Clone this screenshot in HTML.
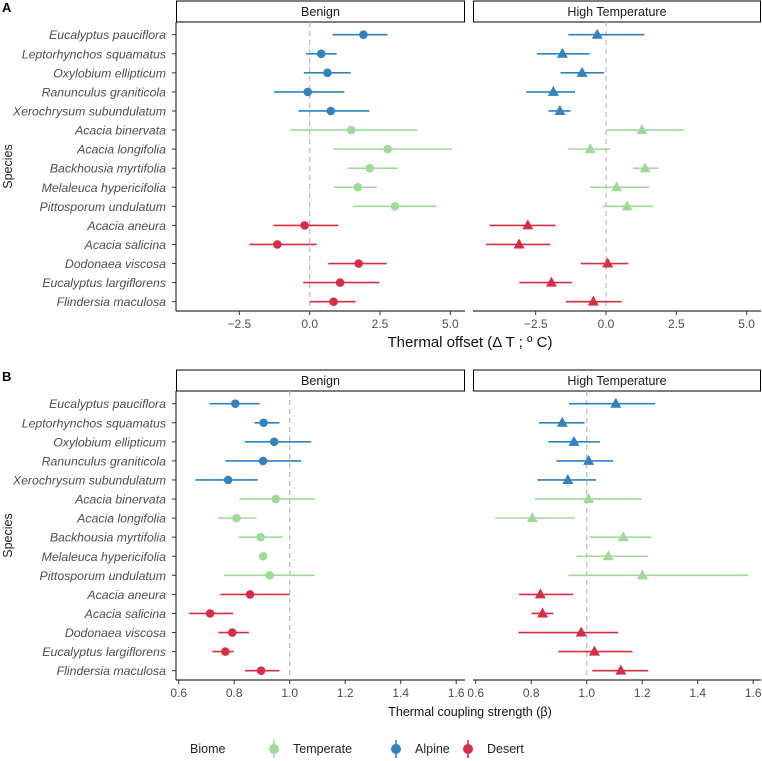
<!DOCTYPE html>
<html><head><meta charset="utf-8"><style>
body{margin:0;background:#fff}
svg{display:block;font-family:"Liberation Sans",sans-serif}
</style></head><body>
<svg id="chart" width="762" height="761" viewBox="0 0 762 761"></svg>
<script>
const species=["Eucalyptus pauciflora","Leptorhynchos squamatus","Oxylobium ellipticum","Ranunculus graniticola","Xerochrysum subundulatum","Acacia binervata","Acacia longifolia","Backhousia myrtifolia","Melaleuca hypericifolia","Pittosporum undulatum","Acacia aneura","Acacia salicina","Dodonaea viscosa","Eucalyptus largiflorens","Flindersia maculosa"];
const biome=["Alpine","Alpine","Alpine","Alpine","Alpine","Temperate","Temperate","Temperate","Temperate","Temperate","Desert","Desert","Desert","Desert","Desert"];
const aBenignMid=[1.91,0.41,0.63,-0.07,0.75,1.48,2.77,2.14,1.71,3.03,-0.18,-1.15,1.74,1.08,0.85];
const aBenignLo=[0.81,-0.13,-0.21,-1.27,-0.40,-0.68,0.82,1.34,0.86,1.54,-1.29,-2.14,0.66,-0.23,0.01];
const aBenignHi=[2.77,0.96,1.46,1.23,2.12,3.83,5.06,3.13,2.39,4.51,1.02,0.25,2.74,2.48,1.63];
const aHighMid=[-0.31,-1.55,-0.85,-1.87,-1.64,1.28,-0.56,1.39,0.38,0.75,-2.78,-3.09,0.06,-1.94,-0.45];
const aHighLo=[-1.34,-2.46,-1.62,-2.84,-2.05,0.02,-1.34,0.96,-0.56,-0.11,-4.14,-4.27,-0.90,-3.08,-1.43];
const aHighHi=[1.36,-0.58,-0.07,-1.10,-1.26,2.78,0.15,1.86,1.53,1.68,-1.79,-1.98,0.79,-1.20,0.56];
const bBenignMid=[0.804,0.906,0.944,0.904,0.778,0.950,0.808,0.895,0.904,0.928,0.857,0.713,0.793,0.768,0.897];
const bBenignLo=[0.711,0.873,0.838,0.768,0.660,0.819,0.743,0.816,0.900,0.763,0.750,0.638,0.743,0.721,0.839];
const bBenignHi=[0.892,0.963,1.078,1.041,0.885,1.092,0.880,0.975,0.908,1.090,1.000,0.796,0.853,0.798,0.963];
const bHighMid=[1.105,0.912,0.954,1.007,0.932,1.007,0.804,1.132,1.078,1.201,0.833,0.841,0.980,1.028,1.123];
const bHighLo=[0.936,0.828,0.862,0.891,0.822,0.813,0.670,1.011,0.963,0.934,0.756,0.801,0.754,0.898,1.020];
const bHighHi=[1.247,0.992,1.047,1.095,1.034,1.198,0.958,1.234,1.220,1.583,0.951,0.880,1.114,1.165,1.222];
const aTicks=[-2.5,0,2.5,5];
const aTickLabels=["\u22122.5","0.0","2.5","5.0"];
const bTicks=[0.6,0.8,1.0,1.2,1.4,1.6];
const bTickLabels=["0.6","0.8","1.0","1.2","1.4","1.6"];
const colors={Alpine:"#3182bd",Temperate:"#a1d99b",Desert:"#d62f45"};
const NS="http://www.w3.org/2000/svg";
const svg=document.getElementById('chart');
function el(tag,attrs,parent,text){const e=document.createElementNS(NS,tag);for(const k in attrs)e.setAttribute(k,attrs[k]);if(text!==undefined)e.textContent=text;(parent||svg).appendChild(e);return e;}

function panelSet(top,zero,scale,ticks,tickLabels,refVal,data,letter,title){
  const plotTop=top+22, plotBot=top+311;
  const L=[176,473], R=[465,761];
  const rowY=i=>top+34.7+i*19.07;
  const g=el('g',{},svg);
  
  
  const lt=el('text',{x:2,y:top+12,'font-weight':'bold','font-size':13,fill:'#000'},g,letter);
  
  
  const yt=el('text',{x:0,y:0,'font-size':12.5,fill:'#222','text-anchor':'middle',transform:`translate(12,${(plotTop+plotBot)/2}) rotate(-90)`},g,'Species');
  
  
  species.forEach((s,i)=>{
    const t=el('text',{x:166,y:rowY(i)+4.5,'font-size':12.3,'font-style':'italic',fill:'#4d4d4d','text-anchor':'end'},g,s);
    
    
    el('line',{x1:172,x2:176,y1:rowY(i),y2:rowY(i),stroke:'#333','stroke-width':1},g);
  });
  el('line',{x1:176,x2:176,y1:plotTop,y2:plotBot,stroke:'#333','stroke-width':1.2},g);
  ["Benign","High Temperature"].forEach((name,p)=>{
    const xs=v=>zero[p]+(v-refVal)*scale;
    const st=el('rect',{x:L[p]+0.5,y:top+1,width:R[p]-L[p]-1,height:21,fill:'#fff',stroke:'#000','stroke-width':1},g);
    
    
    el('text',{x:(L[p]+R[p])/2,y:top+16,'font-size':12.5,fill:'#1a1a1a','text-anchor':'middle'},g,name);
    el('line',{x1:L[p],x2:R[p],y1:plotBot,y2:plotBot,stroke:'#333','stroke-width':1.2},g);
    el('line',{x1:xs(refVal),x2:xs(refVal),y1:plotTop,y2:plotBot,stroke:'#bbb','stroke-width':1.2,'stroke-dasharray':'5,4'},g);
    ticks.forEach((tv,k)=>{
      el('line',{x1:xs(tv),x2:xs(tv),y1:plotBot,y2:plotBot+4,stroke:'#333'},g);
      const tl=el('text',{x:xs(tv),y:plotBot+17,'font-size':12,fill:'#4d4d4d','text-anchor':'middle'},g,tickLabels[k]);
      
      
    });
    const [mid,lo,hi]=data[p];
    species.forEach((s,i)=>{
      const c=colors[biome[i]], y=rowY(i);
      const eb=el('line',{x1:xs(lo[i]),x2:xs(hi[i]),y1:y,y2:y,stroke:c,'stroke-width':1.6},g);
      
      
      let m;
      if(p===0){m=el('circle',{cx:xs(mid[i]),cy:y,r:4.3,fill:c},g);}
      else{const x=xs(mid[i]);m=el('polygon',{points:`${x-5.5},${y+4} ${x+5.5},${y+4} ${x},${y-6}`,fill:c},g);}
      
      
    });
  });
  const xt=el('text',{x:470,y:top+title[1],'font-size':title[2],fill:'#111','text-anchor':'middle'},g,title[0]);
  
  
}
panelSet(0,[309.7,606],28.13,aTicks,aTickLabels,0,
  [[aBenignMid,aBenignLo,aBenignHi],[aHighMid,aHighLo,aHighHi]],'A',["Thermal offset (\u0394 T ; \u00ba C)",347,15]);
panelSet(369,[289.7,586.7],277.5,bTicks,bTickLabels,1.0,
  [[bBenignMid,bBenignLo,bBenignHi],[bHighMid,bHighLo,bHighHi]],'B',["Thermal coupling strength (\u03b2)",347,12.5]);

const lg=el('g',{},svg);


el('text',{x:190,y:753,'font-size':12.5,fill:'#222'},lg,'Biome');
[["Temperate",274],["Alpine",396],["Desert",468]].forEach(([n,x])=>{
  const e=el('g',{},lg);
  
  
  el('line',{x1:x,x2:x,y1:740,y2:758,stroke:colors[n],'stroke-width':1.6},e);
  el('circle',{cx:x,cy:749,r:5,fill:colors[n]},e);
  el('text',{x:x+19,y:753,'font-size':12.5,fill:'#222'},e,n);
});
</script>
</body></html>
